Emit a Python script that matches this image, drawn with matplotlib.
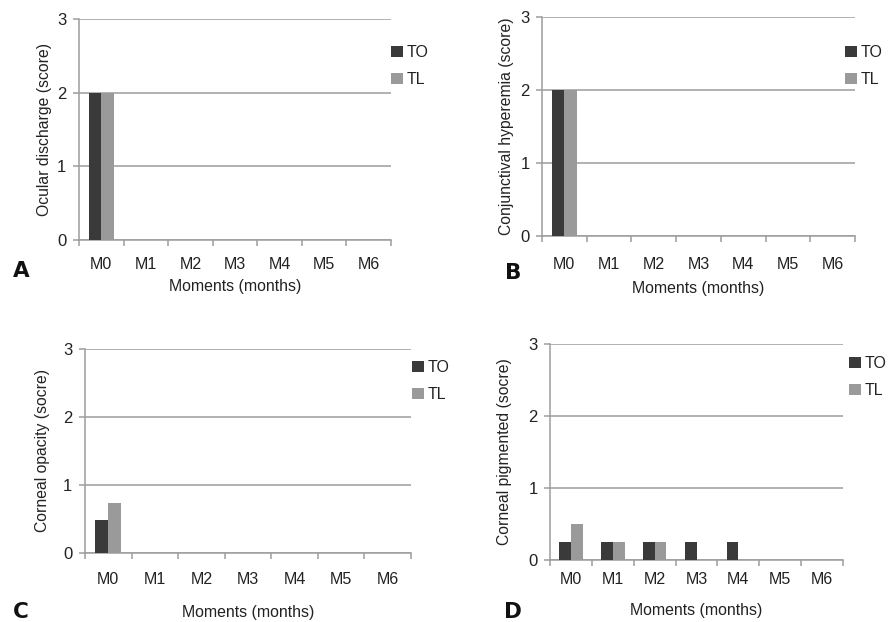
import matplotlib
matplotlib.use("Agg")
import matplotlib.pyplot as plt
import numpy as np

plt.rcParams['font.family'] = ['Liberation Sans', 'DejaVu Sans']

moments = ["M0", "M1", "M2", "M3", "M4", "M5", "M6"]
series = ["TO", "TL"]

ocular_TO = [2, 0, 0, 0, 0, 0, 0]
ocular_TL = [2, 0, 0, 0, 0, 0, 0]
conj_TO = [2, 0, 0, 0, 0, 0, 0]
conj_TL = [2, 0, 0, 0, 0, 0, 0]
opacity_TO = [0.48, 0, 0, 0, 0, 0, 0]
opacity_TL = [0.73, 0, 0, 0, 0, 0, 0]
pigment_TO = [0.25, 0.25, 0.25, 0.25, 0.25, 0, 0]
pigment_TL = [0.5, 0.25, 0.25, 0, 0, 0, 0]

yticks = [0, 1, 2, 3]

C_TO = "#3a3a3a"
C_TL = "#9a9a9a"
GRID = "#9d9d9d"
TXT = "#222222"

W, H = 891, 622
fig = plt.figure(figsize=(W / 100, H / 100), dpi=100)

panels = [
    (ocular_TO, ocular_TL, "Ocular discharge (score)", "A", (79, 391, 19, 240), 45, 287, 12, (391, 66), (21, 271)),
    (conj_TO, conj_TL, "Conjunctival hyperemia (score)", "B", (542, 855, 17, 236), 507, 288, 15, (845, 66), (513, 273)),
    (opacity_TO, opacity_TL, "Corneal opacity (socre)", "C", (85, 411, 349, 553), 43, 613, 14, (412, 381), (21, 612)),
    (pigment_TO, pigment_TL, "Corneal pigmented (socre)", "D", (550, 843, 344, 560), 505, 610, 9, (849, 377), (513, 612)),
]

for to, tl, ylab, letter, (l, r, t, b), ylx, xly, tpad, (lx, ly), (ltx, lty) in panels:
    ax = fig.add_axes([l / W, 1 - b / H, (r - l) / W, (b - t) / H])
    x = np.arange(len(moments))
    bw = 0.28
    ax.bar(x - bw / 2, to, width=bw, color=C_TO, label=series[0], zorder=3)
    ax.bar(x + bw / 2, tl, width=bw, color=C_TL, label=series[1], zorder=3)
    ax.set_xlim(-0.5, len(moments) - 0.5)
    ax.set_ylim(0, 3)
    ax.set_yticks(yticks)
    ax.set_yticklabels([str(v) for v in yticks], fontsize=12)
    ax.yaxis.grid(True, color=GRID, linewidth=1.1, zorder=0)
    ax.set_axisbelow(True)
    ax.set_xticks(x)
    ax.set_xticklabels(moments, fontsize=11.5)
    ax.set_xticks(np.arange(-0.5, len(moments)), minor=True)
    ax.tick_params(axis='x', which='major', length=0, pad=tpad, labelcolor=TXT)
    ax.tick_params(axis='x', which='minor', length=4, color=GRID, width=1.1, direction='out')
    ax.tick_params(axis='y', length=4, color=GRID, width=1.1, pad=5, labelcolor=TXT)
    for s in ['top', 'right']:
        ax.spines[s].set_visible(False)
    for s in ['left', 'bottom']:
        ax.spines[s].set_color(GRID)
        ax.spines[s].set_linewidth(1.1)
    ax.patch.set_alpha(0)
    fig.text(ylx / W, 1 - ((t + b) / 2) / H, ylab, rotation=90, ha='center', va='center',
             fontsize=11.3, color=TXT)
    fig.text(((l + r) / 2) / W, 1 - xly / H, "Moments (months)", ha='center', va='center',
             fontsize=11.4, color=TXT)
    ax.legend(loc='center left', bbox_to_anchor=(lx / W, 1 - ly / H), bbox_transform=fig.transFigure,
              frameon=False, handlelength=0.75, handleheight=0.75, handletextpad=0.25,
              labelspacing=0.75, fontsize=11.5, borderpad=0, borderaxespad=0,
              labelcolor=TXT)
    fig.text(ltx / W, 1 - lty / H, letter, ha='center', va='center', fontsize=15.5,
             fontweight='bold', family='DejaVu Sans', color='#111111')

fig.savefig("out.png", dpi=100)
